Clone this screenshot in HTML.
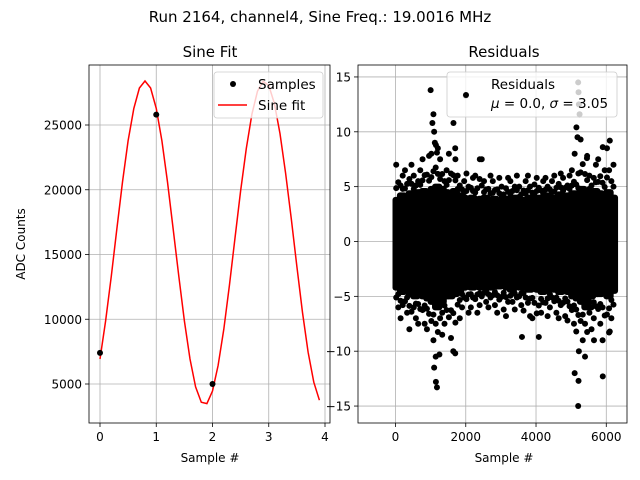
<!DOCTYPE html>
<html><head><meta charset="utf-8"><style>
body{margin:0;background:#fff}
svg{display:block;font-family:"DejaVu Sans","Liberation Sans",sans-serif}
</style></head><body>
<svg id="fig" width="640" height="480" viewBox="0 0 640 480">
<rect width="640" height="480" fill="#fff"/>
<text x="320" y="22" text-anchor="middle" font-size="15">Run 2164, channel4, Sine Freq.: 19.0016 MHz</text>
<text x="210" y="57" text-anchor="middle" font-size="15">Sine Fit</text>
<text x="504" y="57" text-anchor="middle" font-size="15">Residuals</text>
<g id="L"></g><g id="R"></g>
</svg>
<script>
// ---- left chart data
const sampleX=[0,1,2];
const sampleY=[7400,25800,5000];
const fitParams=[15900,12500,2.12,0.27]; // offset, amplitude, period, phase
const leftXTicks=[0,1,2,3,4];
const leftYTicks=[5000,10000,15000,20000,25000];
// ---- right chart data (bins of 125 samples)
const binWidth=125;
const coreUpper=[3.8,4.2,4,4.4,4.2,4.5,4.6,4.4,4.8,5,4.8,4.5,4.4,4.6,4.2,4,3.8,4,3.7,3.9,4,3.6,3.9,3.7,3.6,3.9,3.7,4,3.6,3.8,4,3.7,4,3.8,4.2,4,3.8,4.3,4,4.2,4.4,4.2,4.8,4.5,4.2,4.6,4.4,4.2,4.5,4];
const coreLower=[-4.2,-4.6,-4.4,-4.8,-5,-4.8,-5,-5.2,-5.5,-6,-5.5,-5,-5,-4.8,-4.5,-4.2,-4,-4.2,-4,-4.2,-3.9,-4.2,-4,-4.1,-3.9,-4.2,-4.4,-4,-4.2,-3.9,-4.4,-4.2,-4.4,-4.6,-4.4,-4.2,-4.4,-4.6,-4.4,-4.6,-5,-5.2,-5.5,-6,-5,-4.8,-4.8,-4.5,-5,-4.5];
const extUpper=[7,6,6.5,7,6,6.5,7.5,7.8,8,8.5,7.5,6.5,8,7.5,6,5.5,6.2,5.8,6,7.5,5.5,6,5.5,5.8,5,5.8,5.5,6,5,5.5,6,5.2,5.8,5.5,5.8,5.5,6,6.2,5.8,6,6.5,6.2,9.3,7.8,6,7,7.5,6.5,8.5,7];
const extLower=[-6,-7,-6.5,-8,-7,-7.5,-7.5,-8,-9,-10.5,-8.5,-7.5,-8.8,-10,-7,-6,-6.5,-6,-6.5,-5.8,-5.5,-6,-5.8,-6.5,-6.2,-6.8,-5.5,-6.2,-5.8,-6.3,-6.8,-7,-8.7,-6.5,-6.8,-6,-6.5,-7,-6.8,-7.2,-7.5,-8.2,-9,-10.5,-8,-7,-7.5,-9,-8.3,-7];
const outX=[1000,1050,1080,1100,1120,1150,1180,1650,1700,2000,2400,5100,5150,5180,5200,5210,5220,5240,5450,5900,6100,1100,1150,1180,1250,1700,3600,5100,5200,5210,5220,5650,5900,6100];
const outY=[13.8,10.8,11.6,10,9,8.8,8.1,10.8,8.5,13.3,7.5,8,10.4,9.5,14.5,13.6,12.5,11.6,7.6,8.6,9.2,-11.5,-12.8,-13.3,-10.3,-10.2,-8.7,-12,-15,-12.7,-10,-9,-12.3,-8.2];
const rightXTicks=[0,2000,4000,6000];
const rightYTicks=[-15,-10,-5,0,5,10,15];

const NS='http://www.w3.org/2000/svg';
function mk(parent,tag,attrs){const e=document.createElementNS(NS,tag);for(const k in attrs)e.setAttribute(k,attrs[k]);parent.appendChild(e);return e;}

// left axes
const L=document.getElementById('L');
const lx=v=>100+v*56.25, ly=v=>125+(25000-v)*0.01295;
const lx0=89,lx1=330,ly0=65,ly1=423;
leftXTicks.forEach(t=>{
 const g=mk(L,'line',{x1:lx(t),x2:lx(t),y1:ly0,y2:ly1,stroke:'#b0b0b0','stroke-width':0.8});
 
 mk(L,'line',{x1:lx(t),x2:lx(t),y1:ly1,y2:ly1+4,stroke:'#000','stroke-width':0.8});
 const tx=mk(L,'text',{x:lx(t),y:ly1+18,'text-anchor':'middle','font-size':12});tx.textContent=t;
 
});
leftYTicks.forEach(t=>{
 const g=mk(L,'line',{x1:lx0,x2:lx1,y1:ly(t),y2:ly(t),stroke:'#b0b0b0','stroke-width':0.8});
 
 mk(L,'line',{x1:lx0-4,x2:lx0,y1:ly(t),y2:ly(t),stroke:'#000','stroke-width':0.8});
 const tx=mk(L,'text',{x:lx0-7,y:ly(t)+4.5,'text-anchor':'end','font-size':12});tx.textContent=t;
 
});
let pts=[];
for(let i=0;i<40;i++){const x=i*0.1;const y=fitParams[0]+fitParams[1]*Math.sin(2*Math.PI*(x-fitParams[3])/fitParams[2]);pts.push(lx(x).toFixed(1)+','+ly(y).toFixed(1));}
const fit=mk(L,'polyline',{points:pts.join(' '),fill:'none',stroke:'#f00','stroke-width':1.5});

sampleX.forEach((x,i)=>{const c=mk(L,'circle',{cx:lx(x),cy:ly(sampleY[i]),r:3,fill:'#000'});
 });
const lf=mk(L,'rect',{x:lx0,y:ly0,width:lx1-lx0,height:ly1-ly0,fill:'none',stroke:'#000','stroke-width':0.8});

const lxl=mk(L,'text',{x:210,y:462,'text-anchor':'middle','font-size':12});lxl.textContent='Sample #';

const lyl=mk(L,'text',{x:0,y:0,'text-anchor':'middle','font-size':12,transform:'translate(25,244) rotate(-90)'});lyl.textContent='ADC Counts';

const lg=mk(L,'g',{});
mk(lg,'rect',{x:214,y:72,width:109,height:46,rx:3,fill:'#fff','fill-opacity':0.8,stroke:'#ccc','stroke-width':0.8});
mk(lg,'circle',{cx:233,cy:84,r:3,fill:'#000'});
let t1=mk(lg,'text',{x:258,y:89,'font-size':13.5});t1.textContent='Samples';
mk(lg,'line',{x1:218,x2:247,y1:105,y2:105,stroke:'#f00','stroke-width':1.5});
let t2=mk(lg,'text',{x:258,y:110,'font-size':13.5});t2.textContent='Sine fit';

// right axes
const R=document.getElementById('R');
const rx=v=>395.5+v*0.03513, ry=v=>241.5-v*10.97;
const rx0=358,rx1=627,ry0=65,ry1=423;
rightXTicks.forEach(t=>{
 const g=mk(R,'line',{x1:rx(t),x2:rx(t),y1:ry0,y2:ry1,stroke:'#b0b0b0','stroke-width':0.8});
 
 mk(R,'line',{x1:rx(t),x2:rx(t),y1:ry1,y2:ry1+4,stroke:'#000','stroke-width':0.8});
 const tx=mk(R,'text',{x:rx(t),y:ry1+18,'text-anchor':'middle','font-size':12});tx.textContent=t;
 
});
rightYTicks.forEach(t=>{
 const g=mk(R,'line',{x1:rx0,x2:rx1,y1:ry(t),y2:ry(t),stroke:'#b0b0b0','stroke-width':0.8});
 
 mk(R,'line',{x1:rx0-4,x2:rx0,y1:ry(t),y2:ry(t),stroke:'#000','stroke-width':0.8});
 const tx=mk(R,'text',{x:rx0-7,y:ry(t)+4.5,'text-anchor':'end','font-size':12});tx.textContent=(t<0?'\u2212'+(-t):t);
 
});
// dense core per bin
coreUpper.forEach((u,i)=>{
 const x0=rx(i*binWidth)-3, x1=rx((i+1)*binWidth)+3;
 const r=mk(R,'rect',{x:x0,y:ry(u)-3,width:x1-x0,height:ry(coreLower[i])-ry(u)+6,rx:3,fill:'#000'});
 
 // speckle dots between core and extremes
 const xs=[rx(i*binWidth+20),rx(i*binWidth+80)];
 [[u,extUpper[i]],[coreLower[i],extLower[i]]].forEach(([c,e],k)=>{
  const lv=[e,(c+e)/2,(2*c+e)/3];
  lv.forEach((v,j)=>{const d=mk(R,'circle',{cx:xs[(j+k+i)%2],cy:ry(v),r:3,fill:'#000'});
   });
 });
});
outX.forEach((x,i)=>{const c=mk(R,'circle',{cx:rx(x),cy:ry(outY[i]),r:3,fill:'#000'});
 });
const rf=mk(R,'rect',{x:rx0,y:ry0,width:rx1-rx0,height:ry1-ry0,fill:'none',stroke:'#000','stroke-width':0.8});

const rxl=mk(R,'text',{x:504,y:462,'text-anchor':'middle','font-size':12});rxl.textContent='Sample #';

const rg=mk(R,'g',{});
mk(rg,'rect',{x:447,y:72,width:170,height:45,rx:3,fill:'#fff','fill-opacity':0.8,stroke:'#ccc','stroke-width':0.8});
mk(rg,'circle',{cx:466,cy:95,r:3,fill:'#000'});
let t3=mk(rg,'text',{x:491,y:89,'font-size':13.5});t3.textContent='Residuals';
let t4=mk(rg,'text',{x:491,y:108,'font-size':13.5});
t4.innerHTML='<tspan font-style="italic">μ</tspan> = 0.0, <tspan font-style="italic">σ</tspan> = 3.05';
</script>
</body></html>
